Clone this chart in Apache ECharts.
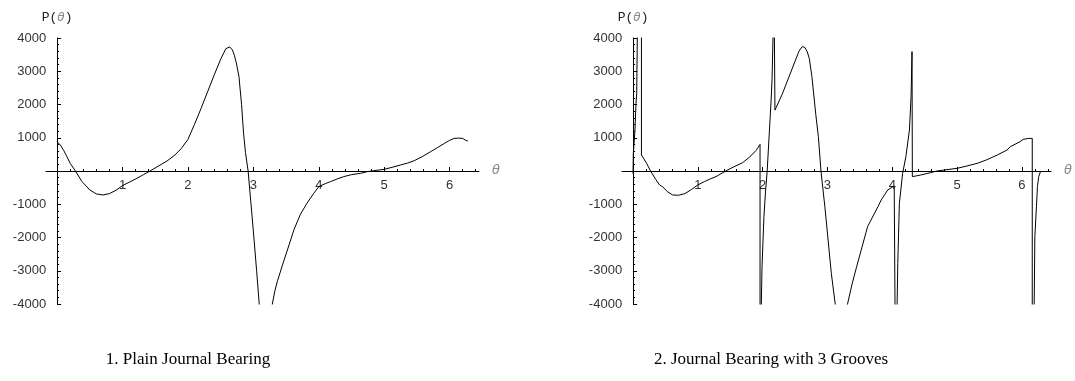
<!DOCTYPE html>
<html lang="en">
<head>
    <meta charset="UTF-8">
    <title>Journal bearing pressure</title>
    <style>
        html, body {
            margin: 0;
            height: 100%;
            width: 100%;
            background: #fff;
        }
        .myEcharts {
            width: 1075px;
            height: 381px;
        }
    </style>
</head>
<body>
    <div id="main" class="myEcharts"></div>
    <script src="https://cdn.jsdelivr.net/npm/echarts@6/dist/echarts.min.js"></script>
    <script>
        // plain journal bearing, P(theta)
        var plainTheta = [0, 0.05, 0.1, 0.15, 0.2, 0.28, 0.38, 0.5, 0.6, 0.7, 0.8, 0.9, 1.0, 1.1, 1.22, 1.32, 1.42,
            1.55, 1.68, 1.8, 1.9, 2.0, 2.1, 2.2, 2.3, 2.4, 2.5, 2.55, 2.58, 2.61, 2.64, 2.68, 2.71, 2.74, 2.78, 2.82,
            2.85, 2.88, 2.92, 2.96, 3.0, 3.05, 3.09, 3.15, 3.2, 3.25, 3.29, 3.33, 3.37, 3.45, 3.55, 3.62, 3.72, 3.82,
            3.92, 4.0, 4.1, 4.18, 4.28, 4.38, 4.5, 4.64, 4.74, 4.84, 5.0, 5.12, 5.25, 5.36, 5.46, 5.58, 5.71, 5.82,
            5.92, 6.0, 6.07, 6.14, 6.2, 6.25, 6.28];
        var plainP = [880, 780, 620, 430, 230, 0, -320, -570, -690, -720, -680, -580, -440, -340, -220, -110, 0,
            150, 300, 480, 680, 950, 1400, 1880, 2380, 2880, 3360, 3560, 3680, 3740, 3730, 3640, 3480, 3250, 2840, 2000,
            1140, 550, 0, -900, -1800, -3000, -4000, -5200, -5500, -5000, -4000, -3600, -3300, -2800, -2200, -1770, -1300, -970,
            -680, -470, -380, -320, -240, -170, -110, -70, -20, 10, 50, 110, 180, 240, 310, 430, 580, 710,
            830, 920, 980, 990, 980, 920, 900];

        // journal bearing with 3 grooves, P(theta)
        var grooveTheta = [0, 0.005, 0.03, 0.046, 0.057, 0.066, 0.075, 0.13, 0.13, 0.21, 0.27, 0.35, 0.41, 0.46,
            0.53, 0.61, 0.7, 0.8, 0.9, 1.0, 1.1, 1.2, 1.28, 1.43, 1.55, 1.69, 1.8, 1.9, 1.96,
            1.96, 1.975, 1.98, 1.99, 2.02, 2.045, 2.07, 2.105, 2.13, 2.145, 2.16, 2.17, 2.19,
            2.19, 2.3, 2.4, 2.5, 2.56, 2.61, 2.65, 2.69, 2.72, 2.76, 2.82, 2.86, 2.9, 2.96, 3.06, 3.12, 3.2, 3.31,
            3.38, 3.45, 3.62, 3.78, 3.83, 3.93, 4.03, 4.06,
            4.06, 4.07, 4.075, 4.085, 4.11, 4.16, 4.21, 4.265, 4.29, 4.305, 4.31,
            4.31, 4.44, 4.59, 4.69, 4.8, 5.0, 5.15, 5.31, 5.45, 5.62, 5.77, 5.82, 5.97, 6.02, 6.1, 6.16,
            6.16, 6.185, 6.19, 6.2, 6.225, 6.24, 6.26, 6.29];
        var grooveP = [-80, 530, 1230, 2040, 2340, 4000, 8000, 8000, 480, 230, 0, -250, -420, -480,
            -620, -720, -730, -680, -560, -420, -320, -230, -170, 0, 120, 250, 420, 620, 800,
            -9000, -9000, -4000, -2900, -1370, -600, 0, 1230, 2100, 2740, 4000, 7000, 7000,
            1830, 2300, 2800, 3300, 3600, 3740, 3720, 3580, 3380, 2840, 1700, 1030, 0, -1070, -3080, -4000, -5500, -4000,
            -3400, -2880, -1670, -1070, -870, -570, -450, -440,
            -9000, -9000, -4000, -2780, -970, -70, 430, 1230, 2240, 3590, 3590,
            -170, -120, -50, 0, 30, 80, 150, 230, 330, 480, 630, 730, 880, 950, 980, 980,
            -9000, -9000, -4000, -1970, -1070, -470, -170, 0];

        var majorX = [1, 2, 3, 4, 5, 6];
        var minorX = [];
        for (var k = 0; k <= 32; k++) {
            if (k % 5 !== 0) minorX.push(+(k * 0.2).toFixed(1));
        }

        var xMin = -0.17, xMax = 6.45;
        var gridW = 433, gridH = 266;
        // axes cross at the origin: shift them in from the grid edges
        var xOffset = -gridH / 2;
        var yOffset = -gridW * (0 - xMin) / (xMax - xMin);

        function pairs(xs, ys) {
            return xs.map(function (x, i) { return [x, ys[i]]; });
        }

        var tickFont = {color: '#333', fontSize: 13, fontFamily: 'Liberation Sans, Arial, sans-serif'};

        function majorXAxis(grid) {
            return {
                type: 'value', gridIndex: grid, min: xMin, max: xMax, position: 'bottom', offset: xOffset,
                axisLine: {onZero: false, lineStyle: {color: '#000', width: 1}},
                axisTick: {inside: true, length: 4, customValues: majorX, lineStyle: {color: '#000'}},
                axisLabel: Object.assign({margin: 8, customValues: majorX}, tickFont),
                splitLine: {show: false},
                name: 'θ', nameLocation: 'end', nameGap: 13,
                nameTextStyle: {color: '#888', fontSize: 13, fontStyle: 'italic', fontFamily: 'DejaVu Sans'}
            };
        }
        function minorXAxis(grid) {
            return {
                type: 'value', gridIndex: grid, min: xMin, max: xMax, position: 'bottom', offset: xOffset,
                axisLine: {show: false, onZero: false},
                axisTick: {inside: true, length: 2, customValues: minorX, lineStyle: {color: '#000'}},
                axisLabel: {show: false},
                splitLine: {show: false}
            };
        }
        function yAxisFor(grid) {
            return {
                type: 'value', gridIndex: grid, min: -4000, max: 4000, interval: 1000,
                position: 'left', offset: yOffset,
                axisLine: {onZero: false, lineStyle: {color: '#000', width: 1}},
                axisTick: {inside: true, length: 4, lineStyle: {color: '#000'}},
                minorTick: {show: true, splitNumber: 5, length: 2, lineStyle: {color: '#000'}},
                axisLabel: Object.assign({
                    margin: 11,
                    formatter: function (v) { return v === 0 ? '' : String(v); }
                }, tickFont),
                splitLine: {show: false},
                name: '{m|P(}{t|θ}{m|)}', nameLocation: 'end', nameGap: 14,
                nameTextStyle: {
                    rich: {
                        m: {fontFamily: 'Liberation Mono', fontSize: 13, color: '#222'},
                        t: {fontFamily: 'DejaVu Sans', fontStyle: 'italic', fontSize: 12, color: '#888'}
                    }
                }
            };
        }
        function curve(xi, yi, data) {
            return {
                type: 'line', xAxisIndex: xi, yAxisIndex: yi, data: data,
                showSymbol: false, clip: true, silent: true,
                lineStyle: {color: '#000', width: 1}
            };
        }

        var myCharts = echarts.init(document.getElementById('main'), null, {renderer: 'canvas'});
        var option = {
            animation: false,
            backgroundColor: '#fff',
            grid: [
                {left: 46, top: 38, width: gridW, height: gridH},
                {left: 622, top: 38, width: gridW, height: gridH}
            ],
            xAxis: [majorXAxis(0), minorXAxis(0), majorXAxis(1), minorXAxis(1)],
            yAxis: [yAxisFor(0), yAxisFor(1)],
            series: [
                curve(0, 0, pairs(plainTheta, plainP)),
                curve(2, 1, pairs(grooveTheta, grooveP))
            ],
            graphic: [
                {type: 'text', x: 188, y: 360, style: {text: '1. Plain Journal Bearing', align: 'center',
                    verticalAlign: 'middle', fill: '#000', font: '17px "Liberation Serif", "Times New Roman", serif'}},
                {type: 'text', x: 771, y: 360, style: {text: '2. Journal Bearing with 3 Grooves', align: 'center',
                    verticalAlign: 'middle', fill: '#000', font: '17px "Liberation Serif", "Times New Roman", serif'}}
            ]
        };
        myCharts.setOption(option);
    </script>
</body>
</html>
